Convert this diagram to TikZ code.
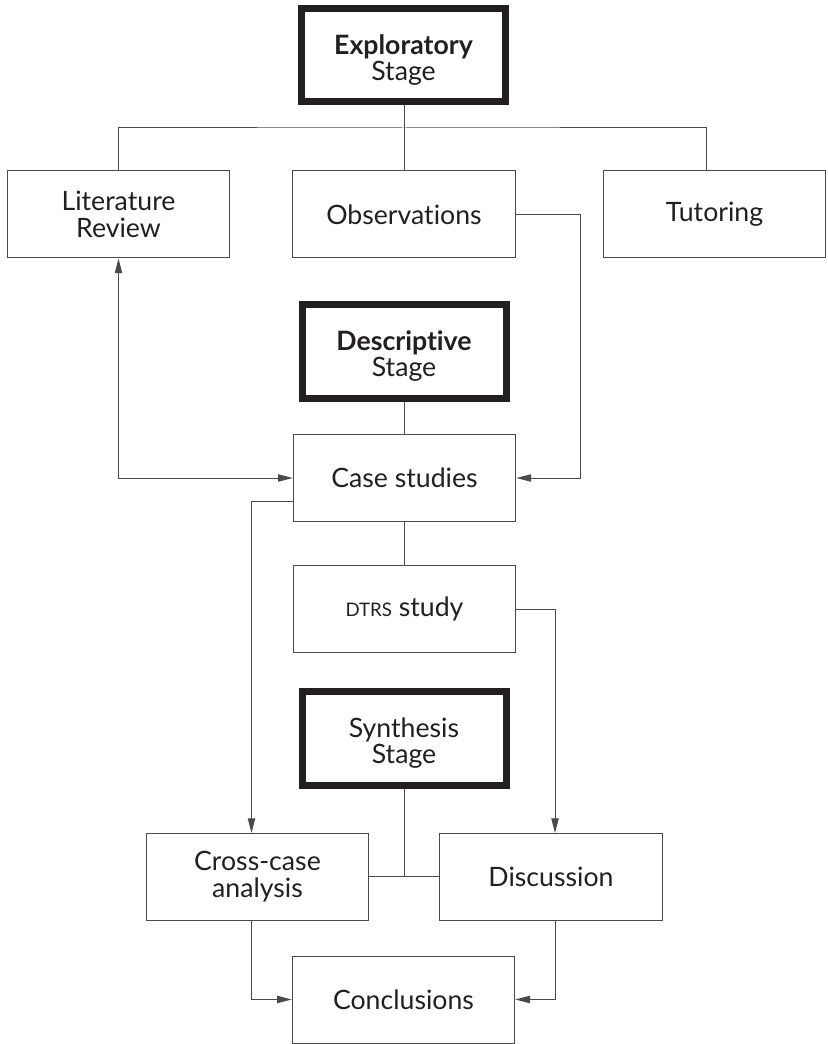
\documentclass[tikz,border=0pt]{standalone}
\usepackage{fontspec}
\setmainfont{Lato}[Ligatures={NoCommon,NoRequired,NoContextual}]
\usetikzlibrary{arrows.meta}
\definecolor{ink}{HTML}{231F20}
\definecolor{linegray}{HTML}{4A4A4A}
\begin{document}
\begin{tikzpicture}[x=0.75pt,y=-0.75pt,
  box/.style={draw=linegray, line width=0.75pt, minimum width=167pt, minimum height=65.25pt,
    align=center, inner sep=0pt, text=ink, font=\fontsize{20}{20.5}\selectfont},
  stagebox/.style={draw=ink, line width=5.25pt, minimum width=153pt, minimum height=70pt,
    inner sep=0pt},
  stagetext/.style={align=center, inner sep=0pt, text=ink, font=\fontsize{20}{19.5}\selectfont},
  conn/.style={draw=linegray, line width=0.75pt},
  arr/.style={conn, -{Triangle[length=11pt,width=5.5pt]}},
  darr/.style={conn, {Triangle[length=11pt,width=5.5pt]}-{Triangle[length=11pt,width=5.5pt]}}]
\useasboundingbox (0,0) rectangle (827,1044);

% stage boxes
\node[stagebox] (expl) at (403.5,55) {};
\node[stagetext] (explt) at ([yshift=-4pt]expl.center) {\textbf{Exploratory}\\Stage};
\node[stagebox] (desc) at (404,351.5) {};
\node[stagetext] (desct) at ([yshift=-3.5pt]desc.center) {\textbf{Descriptive}\\Stage};
\node[stagebox] (syn) at (404,738.5) {};
\node[stagetext] (synt) at ([yshift=-3.5pt]syn.center) {Synthesis\\Stage};

% boxes
\node[box] (lit) at (118.5,214.5) {Literature\\Review};
\node[box] (obs) at (404,214.5) {Observations};
\node[box] (tut) at (714.5,214.5) {Tutoring};
\node[box] (case) at (404.5,478) {Case studies};
\node[box] (dtrs) at (404.5,609) {{\fontsize{14}{15}\selectfont DTRS} study};
\node[box] (cross) at (257.5,876.5) {Cross-case\\analysis};
\node[box] (disc) at (551,876.5) {Discussion};
\node[box] (concl) at (403.5,999.5) {Conclusions};

% helper coordinates
\coordinate (hub) at (404,128);
\coordinate (tuttop) at (706,171);
\coordinate (obsturn) at (580,214.5);
\coordinate (caseout) at (293,501);
\coordinate (crossin) at (251.5,833);
\coordinate (dtrsturn) at (555,609);
\coordinate (discin) at (555,833);
\coordinate (synhub) at (404,876.5);

% top tree
\draw[conn] (expl.south -| hub) -- (hub);
\draw[conn] (lit.north) |- (hub) -| (tuttop);
\draw[conn] (hub) -- (obs.north);

% feedback arrows
\draw[arr] (obs.east) -- (obsturn) |- (case.east);
\draw[darr] (lit.south) |- (case.west);
\draw[conn] (desc.south) -- (case.north -| desc.south);
\draw[arr] (caseout) -| (crossin);
\draw[conn] (case.south -| desc.south) -- (dtrs.north -| desc.south);
\draw[arr] (dtrs.east) -- (dtrsturn) -- (discin);

% synthesis
\draw[conn] (syn.south) -- (synhub);
\draw[conn] (cross.east) -- (disc.west);

% conclusions
\draw[arr] (cross.south -| crossin) |- (concl.west);
\draw[arr] (disc.south -| discin) |- (concl.east);
\end{tikzpicture}
\end{document}
